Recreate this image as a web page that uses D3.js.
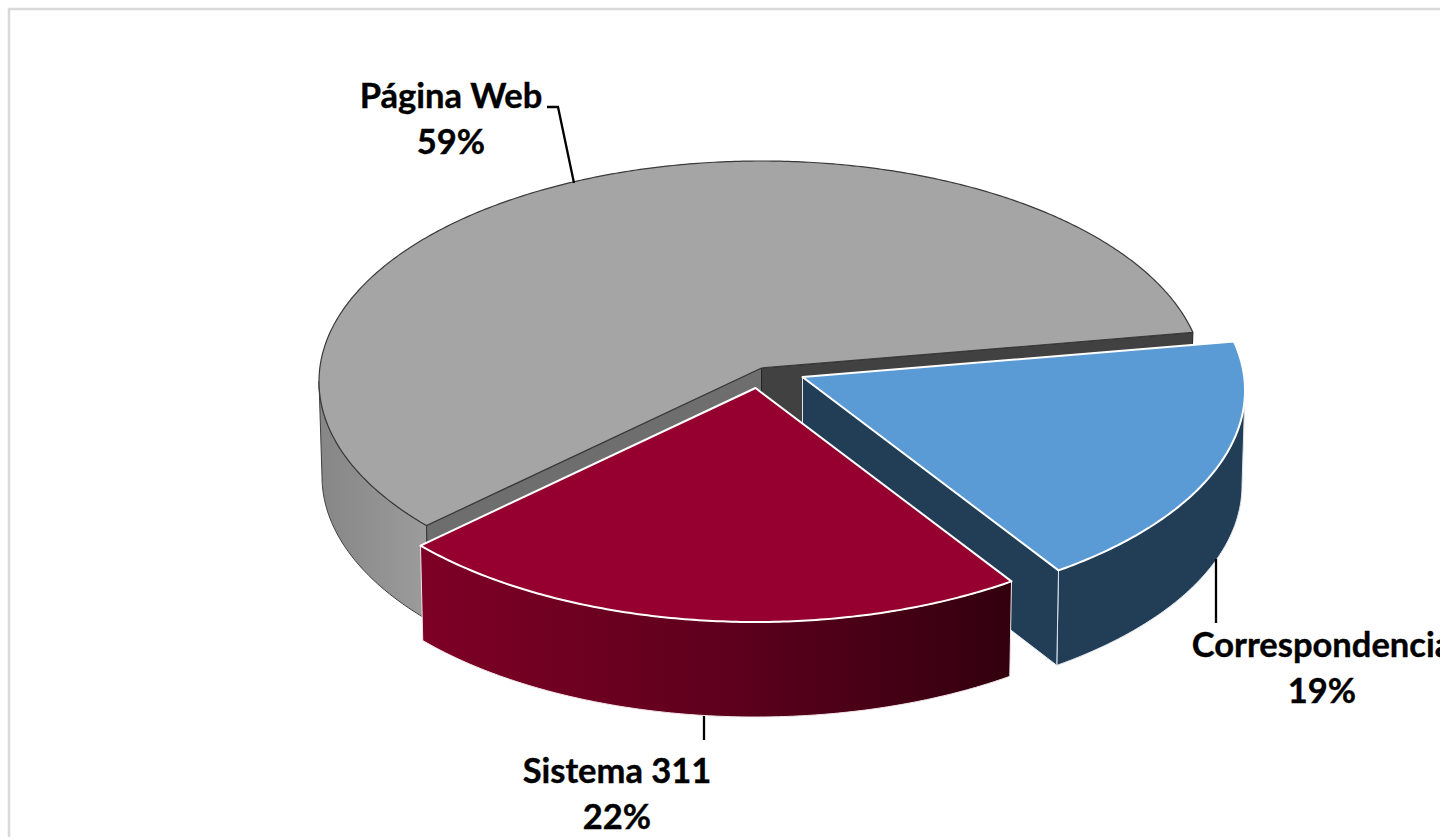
<!DOCTYPE html>
<html>

<head>
    <meta charset="utf-8">
    <script src="https://d3js.org/d3.v7.min.js"></script>
    <style>
        html, body { margin: 0; padding: 0; background: #fff; overflow: hidden; }
        text { font-family: Lato, "Open Sans", sans-serif; font-weight: 700; fill: #000; stroke: #000; stroke-width: 0.4px; }
    </style>
</head>

<body>
    <div id="chart"></div>
    <script>
        var categories = ["Correspondencia", "Sistema 311", "Página Web"];
        var values = [19, 22, 59];

        // fake 3d view of the pie
        var W = 1440, H = 837;
        var cx = 761.5, cy = 381.5, rx = 442.5, ry = 220.5;
        var apexY = 368, depth = 95, shrink = 3;
        var startAngle = 80.5 * Math.PI / 180;
        var offsets = [[41, 9], [-6, 20], [0, 0]];
        var warpAmount = 0.0815, warpPhase = 0.6;

        var topFill = ["#5b9bd5", "#960030", "#a5a5a5"];
        var labelAt = [[1322, 657], [617, 783], [451, 108]];
        var leaders = [
            [[1216, 559], [1216, 623]],
            [[704, 716], [704, 740]],
            [[547, 107], [558, 107], [574, 183]]
        ];

        var svg = d3.select("#chart").append("svg").attr("width", W).attr("height", H)
            .style("display", "block");

        var defs = svg.append("defs");
        function grad(id, stops) {
            var g = defs.append("linearGradient").attr("id", id);
            stops.forEach(function (s) {
                g.append("stop").attr("offset", s[0]).attr("stop-color", s[1]);
            });
        }
        grad("redWall", [[0, "#7e0026"], [0.5, "#5f001d"], [1, "#32000f"]]);
        grad("grayWall", [[0, "#868686"], [1, "#9c9c9c"]]);

        svg.append("rect").attr("x", 9).attr("y", 9).attr("width", W + 100).attr("height", H + 100)
            .attr("fill", "none").attr("stroke", "#d9d9d9").attr("stroke-width", 2.5);

        var pie = d3.pie().sort(null).startAngle(startAngle).endAngle(startAngle + 2 * Math.PI);
        var slices = pie(values);
        var line = d3.line();

        // pie angle to ellipse angle, front of the pie is stretched by the perspective
        function warp(a) { return a - warpAmount * Math.sin(a - warpPhase); }
        function unwarp(t) {
            var a = t;
            for (var k = 0; k < 20; k++) a = t + warpAmount * Math.sin(a - warpPhase);
            return a;
        }

        function rim(a, i, low) {
            var t = warp(a);
            var r = low ? rx - shrink : rx;
            return [cx + offsets[i][0] + r * Math.sin(t),
                cy + offsets[i][1] - ry * Math.cos(t) + (low ? depth : 0)];
        }
        function arcPoints(a0, a1, i, low) {
            var n = Math.ceil(Math.abs(a1 - a0) / 0.01);
            return d3.range(n + 1).map(function (k) { return rim(a0 + (a1 - a0) * k / n, i, low); });
        }
        function apex(i, low) {
            return [cx + offsets[i][0], apexY + offsets[i][1] + (low ? depth - 2 : 0)];
        }
        function cutWall(a, i) {
            return [apex(i), rim(a, i), rim(a, i, true), apex(i, true)];
        }
        function outerWall(a0, a1, i) {
            return arcPoints(a0, a1, i).concat(arcPoints(a1, a0, i, true));
        }
        function topFace(d, i) {
            return [apex(i)].concat(arcPoints(d.startAngle, d.endAngle, i));
        }
        function draw(points, fill, stroke, width) {
            return svg.append("path").attr("d", line(points) + "Z").attr("fill", fill)
                .attr("stroke", stroke).attr("stroke-width", width).attr("stroke-linejoin", "round");
        }

        // gray slice goes first, the other two sit in front of it
        // walls only run to the ellipse's left / right extreme, past that they are hidden
        var gray = slices[2];
        draw(outerWall(gray.startAngle, unwarp(1.5 * Math.PI), 2), "url(#grayWall)", "#404040", 1);
        draw(cutWall(gray.startAngle, 2), "#6e6e6e", "#333", 1);
        draw(cutWall(gray.endAngle, 2), "#414141", "#222", 1);
        draw(topFace(gray, 2), topFill[2], "#3a3a3a", 1.2);

        var blue = slices[0];
        draw(outerWall(unwarp(0.5 * Math.PI), blue.endAngle, 0), "#223d56", "#dfe6ee", 1);
        draw(cutWall(blue.endAngle, 0), "#223d56", "#dfe6ee", 1);
        draw(topFace(blue, 0), topFill[0], "#fff", 2);

        var red = slices[1];
        draw(outerWall(red.startAngle, red.endAngle, 1), "url(#redWall)", "#f2e6ea", 1);
        draw(topFace(red, 1), topFill[1], "#fff", 2);

        leaders.forEach(function (p) {
            svg.append("path").attr("d", line(p)).attr("fill", "none")
                .attr("stroke", "#000").attr("stroke-width", 2.3);
        });

        categories.forEach(function (name, i) {
            var t = svg.append("text").attr("text-anchor", "middle").style("font-size", "34.5px");
            t.append("tspan").attr("x", labelAt[i][0]).attr("y", labelAt[i][1]).text(name);
            t.append("tspan").attr("x", labelAt[i][0]).attr("y", labelAt[i][1] + 46).text(values[i] + "%");
        });
    </script>
</body>

</html>
